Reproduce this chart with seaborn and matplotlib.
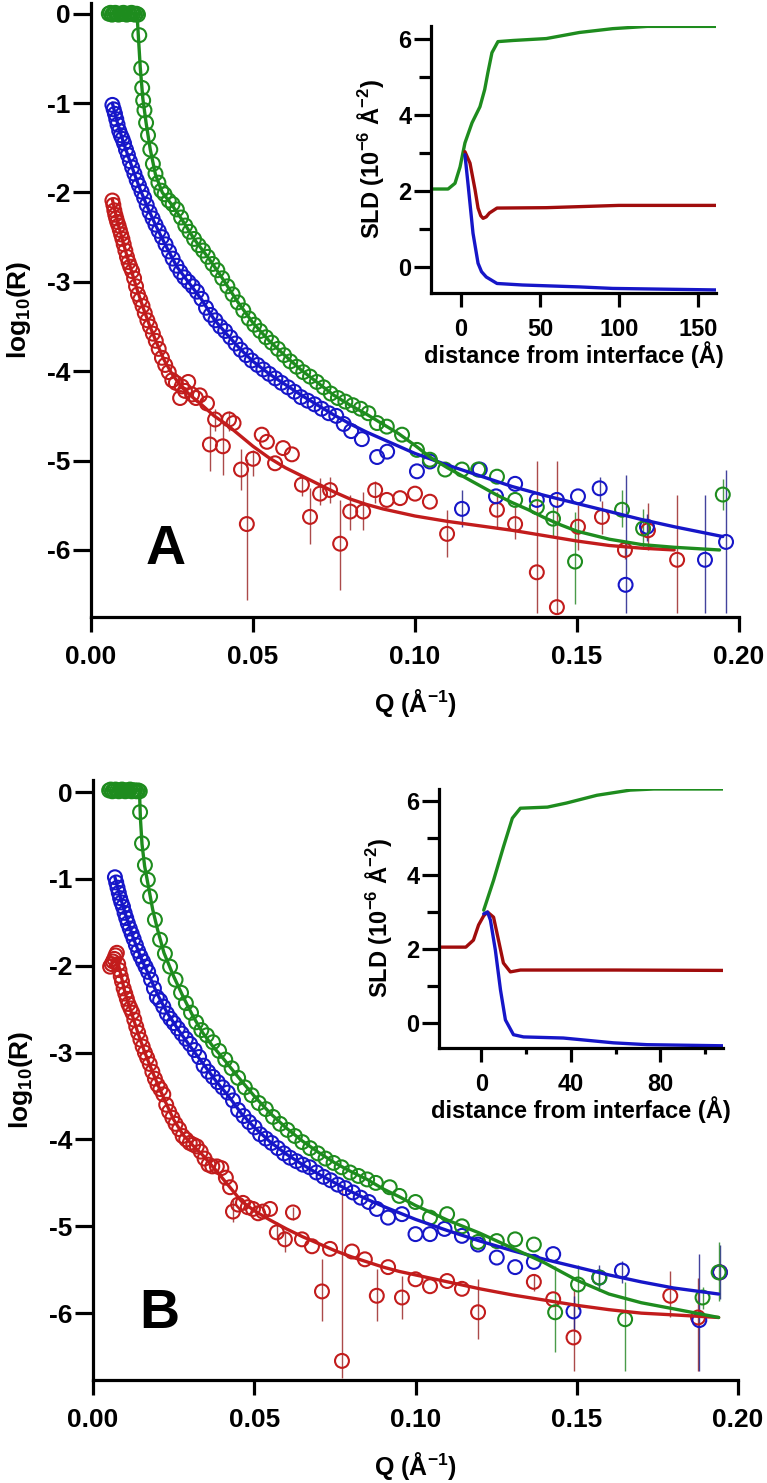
import matplotlib
matplotlib.use('Agg')
import matplotlib.pyplot as plt
from matplotlib.ticker import MultipleLocator
import seaborn as sns

# ---------------- panel A : reflectivity data ----------------
qa_green = [0.0055, 0.0060, 0.0065, 0.0070, 0.0075, 0.0080, 0.0085, 0.0090, 0.0095, 0.0100,
            0.0105, 0.0110, 0.0115, 0.0120, 0.0125, 0.0130, 0.0135, 0.0140, 0.0145,
            0.0149, 0.0155, 0.0158, 0.0161, 0.0165, 0.0170, 0.0176, 0.0183, 0.0191, 0.0199,
            0.0208, 0.0217, 0.0227, 0.0240, 0.0252, 0.0265, 0.0278, 0.0291, 0.0304, 0.0318,
            0.0332, 0.0346, 0.0360, 0.0375, 0.0390, 0.0405, 0.0421, 0.0437, 0.0453, 0.0470,
            0.0487, 0.0504, 0.0522, 0.0540, 0.0558, 0.0577, 0.0596, 0.0615, 0.0635, 0.0655,
            0.0676, 0.0697, 0.0718, 0.0740, 0.0762, 0.0785, 0.0808, 0.0832, 0.0856, 0.0883,
            0.0913, 0.0960, 0.1006, 0.1046, 0.1093, 0.1145, 0.1195, 0.1253, 0.1309, 0.1376,
            0.1426, 0.1494, 0.1639, 0.1704, 0.1950]
ra_green = [0.00, 0.01, -0.01, 0.00, 0.01, 0.00, -0.01, 0.00, 0.00, 0.01,
            0.00, -0.01, 0.00, 0.00, 0.01, 0.00, -0.01, 0.00, -0.01,
            -0.24, -0.61, -0.83, -0.97, -1.08, -1.22, -1.36, -1.52, -1.68, -1.79,
            -1.89, -1.98, -2.02, -2.09, -2.13, -2.19, -2.28, -2.37, -2.44, -2.52,
            -2.59, -2.65, -2.72, -2.80, -2.87, -2.96, -3.05, -3.14, -3.23, -3.32,
            -3.41, -3.48, -3.55, -3.62, -3.68, -3.75, -3.82, -3.89, -3.95, -4.01,
            -4.06, -4.12, -4.18, -4.25, -4.30, -4.34, -4.38, -4.42, -4.47, -4.58,
            -4.62, -4.71, -4.88, -4.99, -5.10, -5.10, -5.10, -5.18, -5.44, -5.52,
            -5.65, -6.13, -5.55, -5.76, -5.38]

qa_blue = [0.0066, 0.0070, 0.0074, 0.0078, 0.0082, 0.0087, 0.0092, 0.0097, 0.0102, 0.0108,
           0.0114, 0.0120, 0.0127, 0.0134, 0.0141, 0.0148, 0.0156, 0.0164, 0.0172, 0.0181,
           0.0190, 0.0199, 0.0209, 0.0219, 0.0230, 0.0241, 0.0252, 0.0264, 0.0276, 0.0288,
           0.0301, 0.0314, 0.0327, 0.0341, 0.0355, 0.0369, 0.0384, 0.0399, 0.0414, 0.0430,
           0.0446, 0.0462, 0.0479, 0.0496, 0.0514, 0.0532, 0.0550, 0.0569, 0.0588, 0.0608,
           0.0628, 0.0648, 0.0669, 0.0690, 0.0712, 0.0734, 0.0757, 0.0780, 0.0803, 0.0836,
           0.0883, 0.0914, 0.1006, 0.1046, 0.1145, 0.1200, 0.1250, 0.1309, 0.1376, 0.1438,
           0.1503, 0.1570, 0.1650, 0.1716, 0.1895, 0.1960]
ra_blue = [-1.02, -1.07, -1.12, -1.18, -1.24, -1.31, -1.36, -1.40, -1.45, -1.52,
           -1.58, -1.65, -1.72, -1.79, -1.86, -1.92, -1.99, -2.06, -2.14, -2.22,
           -2.29, -2.36, -2.43, -2.50, -2.58, -2.66, -2.74, -2.82, -2.89, -2.95,
           -3.00, -3.05, -3.11, -3.19, -3.29, -3.37, -3.43, -3.50, -3.55, -3.62,
           -3.69, -3.76, -3.82, -3.88, -3.93, -3.98, -4.03, -4.08, -4.13, -4.18,
           -4.23, -4.29, -4.33, -4.37, -4.42, -4.47, -4.50, -4.59, -4.67, -4.76,
           -4.96, -4.90, -5.12, -5.01, -5.54, -5.10, -5.40, -5.26, -5.44, -5.44,
           -5.40, -5.31, -6.39, -5.74, -6.11, -5.91]

qa_red = [0.0066, 0.0069, 0.0072, 0.0075, 0.0078, 0.0081, 0.0085, 0.0089, 0.0093, 0.0097,
          0.0101, 0.0106, 0.0111, 0.0116, 0.0121, 0.0127, 0.0133, 0.0139, 0.0145, 0.0152,
          0.0159, 0.0166, 0.0174, 0.0182, 0.0191, 0.0200, 0.0209, 0.0219, 0.0229, 0.0240,
          0.0251, 0.0262, 0.0275, 0.0280, 0.0290, 0.0300, 0.0312, 0.0324, 0.0336, 0.0358,
          0.0367, 0.0383, 0.0407, 0.0426, 0.0440, 0.0463, 0.0481, 0.0500, 0.0527, 0.0543,
          0.0568, 0.0593, 0.0620, 0.0651, 0.0676, 0.0707, 0.0738, 0.0769, 0.0800, 0.0840,
          0.0877, 0.0913, 0.0954, 0.1000, 0.1046, 0.1099, 0.1253, 0.1309, 0.1376, 0.1438,
          0.1503, 0.1577, 0.1648, 0.1719, 0.1809]
ra_red = [-2.09, -2.14, -2.20, -2.25, -2.29, -2.33, -2.37, -2.42, -2.47, -2.52,
          -2.58, -2.65, -2.72, -2.78, -2.83, -2.88, -2.96, -3.05, -3.14, -3.20,
          -3.27, -3.35, -3.43, -3.50, -3.58, -3.66, -3.75, -3.85, -3.93, -4.01,
          -4.10, -4.13, -4.30, -4.17, -4.22, -4.12, -4.26, -4.30, -4.27, -4.36,
          -4.82, -4.54, -4.84, -4.54, -4.58, -5.10, -5.71, -4.98, -4.71, -4.79,
          -5.03, -4.86, -4.93, -5.27, -5.63, -5.37, -5.33, -5.93, -5.57, -5.57,
          -5.33, -5.44, -5.42, -5.37, -5.46, -5.82, -5.55, -5.71, -6.25, -6.64,
          -5.74, -5.63, -6.00, -5.78, -6.11]

# error bars (Q, lower end, upper end) for the points where they are visible
ea_green_q = [0.1426, 0.1494, 0.1639, 0.1704, 0.1950]
ea_green_lo = [-5.85, -6.61, -5.74, -5.99, -5.55]
ea_green_hi = [-5.50, -5.57, -5.33, -5.54, -5.21]
ea_blue_q = [0.1145, 0.1570, 0.1650, 0.1716, 0.1895, 0.1960]
ea_blue_lo = [-5.74, -5.45, -6.70, -5.90, -6.70, -6.70]
ea_blue_hi = [-5.33, -5.18, -5.16, -5.60, -5.38, -5.10]
ea_red_q = [0.0367, 0.0383, 0.0407, 0.0426, 0.0463, 0.0481, 0.0500, 0.0651, 0.0676, 0.0707,
            0.0738, 0.0769, 0.0800, 0.0840, 0.0877, 0.1099, 0.1253, 0.1309, 0.1376, 0.1438,
            0.1503, 0.1577, 0.1648, 0.1719, 0.1809]
ea_red_lo = [-5.12, -4.67, -5.16, -4.67, -5.33, -6.56, -5.17, -5.40, -5.93, -5.50,
             -5.48, -6.45, -5.78, -5.78, -5.48, -6.08, -5.76, -5.88, -6.70, -6.70,
             -6.00, -5.82, -6.10, -6.00, -6.70]
ea_red_hi = [-4.58, -4.42, -4.58, -4.45, -4.87, -4.98, -4.88, -5.16, -5.31, -5.20,
             -5.18, -5.44, -5.38, -5.35, -5.23, -5.55, -5.35, -5.52, -5.01, -5.01,
             -5.50, -5.45, -5.90, -5.48, -5.38]

# model curves, panel A
fa_green_q = [0.0055, 0.0142, 0.0147, 0.0152, 0.0160, 0.0170, 0.0183, 0.0199, 0.0220, 0.0250,
              0.0280, 0.0320, 0.0360, 0.0400, 0.0450, 0.0500, 0.0550, 0.0600, 0.0650, 0.0700,
              0.0750, 0.0800, 0.0850, 0.0900, 0.0950, 0.1000, 0.1050, 0.1100, 0.1150, 0.1200,
              0.1250, 0.1300, 0.1350, 0.1400, 0.1450, 0.1500, 0.1600, 0.1700, 0.1800, 0.1940]
fa_green_r = [0.00, 0.00, -0.30, -0.60, -0.95, -1.22, -1.52, -1.80, -2.00, -2.14,
              -2.30, -2.53, -2.72, -2.93, -3.21, -3.46, -3.66, -3.83, -3.99, -4.13,
              -4.27, -4.38, -4.48, -4.59, -4.70, -4.83, -4.97, -5.08, -5.18, -5.28,
              -5.38, -5.47, -5.55, -5.64, -5.72, -5.79, -5.88, -5.94, -5.97, -6.00]
fa_blue_q = [0.0066, 0.0080, 0.0100, 0.0125, 0.0150, 0.0175, 0.0200, 0.0230, 0.0265, 0.0300,
             0.0340, 0.0380, 0.0420, 0.0460, 0.0500, 0.0550, 0.0600, 0.0650, 0.0700, 0.0750,
             0.0800, 0.0850, 0.0900, 0.1000, 0.1100, 0.1200, 0.1300, 0.1400, 0.1500, 0.1600,
             0.1700, 0.1800, 0.1950]
fa_blue_r = [-1.00, -1.20, -1.44, -1.70, -1.95, -2.17, -2.37, -2.59, -2.83, -3.00,
             -3.19, -3.42, -3.59, -3.75, -3.89, -4.03, -4.15, -4.27, -4.38, -4.49,
             -4.59, -4.68, -4.76, -4.92, -5.05, -5.17, -5.29, -5.39, -5.48, -5.57,
             -5.66, -5.74, -5.85]
fa_red_q = [0.0066, 0.0080, 0.0100, 0.0120, 0.0140, 0.0160, 0.0180, 0.0200, 0.0225, 0.0250,
            0.0280, 0.0310, 0.0340, 0.0380, 0.0420, 0.0460, 0.0500, 0.0550, 0.0600, 0.0650,
            0.0700, 0.0750, 0.0800, 0.0850, 0.0900, 0.1000, 0.1100, 0.1200, 0.1300, 0.1400,
            0.1500, 0.1600, 0.1700, 0.1800]
fa_red_r = [-2.08, -2.30, -2.57, -2.82, -3.06, -3.28, -3.48, -3.66, -3.87, -4.03,
            -4.18, -4.28, -4.37, -4.50, -4.60, -4.72, -4.84, -4.97, -5.08, -5.17,
            -5.26, -5.35, -5.43, -5.49, -5.54, -5.62, -5.68, -5.73, -5.78, -5.84,
            -5.90, -5.95, -5.98, -6.00]

# SLD profiles, panel A inset
za_green = [-19, -8.2, -3.8, -0.6, 2.5, 7, 12, 15, 17, 19.6, 23.4, 33, 54, 75, 96, 118, 162]
sa_green = [2.05, 2.05, 2.20, 2.63, 3.26, 3.79, 4.21, 4.66, 5.10, 5.63, 5.92, 5.95, 6.00, 6.16, 6.26, 6.32, 6.32]
za_red = [2.5, 5.7, 8.9, 10.8, 12.5, 14, 16, 18, 22.8, 54, 100, 162]
sa_red = [3.03, 2.73, 2.03, 1.55, 1.35, 1.28, 1.32, 1.42, 1.55, 1.56, 1.62, 1.62]
za_blue = [2.5, 4.6, 7.6, 10.8, 13, 16, 22.8, 39, 75, 96, 162]
sa_blue = [2.95, 2.12, 0.89, 0.10, -0.12, -0.26, -0.43, -0.47, -0.52, -0.56, -0.60]

# ---------------- panel B : reflectivity data ----------------
qb_green = [0.0050, 0.0055, 0.0060, 0.0065, 0.0070, 0.0075, 0.0080, 0.0085, 0.0090, 0.0095,
            0.0100, 0.0105, 0.0110, 0.0115, 0.0120, 0.0125, 0.0130, 0.0135, 0.0140, 0.0145,
            0.0146, 0.0152, 0.0161, 0.0170, 0.0177, 0.0192, 0.0208, 0.0223, 0.0239, 0.0256,
            0.0273, 0.0288, 0.0304, 0.0320, 0.0336, 0.0353, 0.0372, 0.0391, 0.0410, 0.0430,
            0.0450, 0.0471, 0.0492, 0.0514, 0.0536, 0.0558, 0.0580, 0.0603, 0.0626, 0.0649,
            0.0673, 0.0697, 0.0721, 0.0746, 0.0771, 0.0797, 0.0823, 0.0850, 0.0877, 0.0920,
            0.0950, 0.1000, 0.1045, 0.1098, 0.1144, 0.1194, 0.1252, 0.1309, 0.1367, 0.1433,
            0.1504, 0.1570, 0.1650, 0.1890, 0.1940]
rb_green = [0.02, 0.03, 0.01, 0.02, 0.03, 0.02, 0.01, 0.02, 0.03, 0.02,
            0.01, 0.02, 0.02, 0.03, 0.01, 0.02, 0.02, 0.01, 0.02, 0.01,
            -0.23, -0.59, -0.84, -1.01, -1.20, -1.47, -1.70, -1.86, -2.01, -2.16,
            -2.31, -2.43, -2.54, -2.65, -2.74, -2.80, -2.88, -2.98, -3.08, -3.18,
            -3.29, -3.40, -3.49, -3.58, -3.65, -3.74, -3.82, -3.89, -3.96, -4.03,
            -4.10, -4.16, -4.22, -4.27, -4.32, -4.38, -4.42, -4.46, -4.50, -4.55,
            -4.65, -4.72, -4.90, -4.86, -5.00, -5.18, -5.17, -5.15, -5.21, -5.99,
            -5.67, -5.59, -6.07, -5.82, -5.53]

qb_blue = [0.0068, 0.0072, 0.0076, 0.0080, 0.0084, 0.0088, 0.0093, 0.0098, 0.0103, 0.0108,
           0.0114, 0.0120, 0.0126, 0.0133, 0.0140, 0.0147, 0.0155, 0.0163, 0.0171, 0.0180,
           0.0189, 0.0198, 0.0208, 0.0218, 0.0229, 0.0240, 0.0251, 0.0263, 0.0275, 0.0288,
           0.0301, 0.0315, 0.0329, 0.0343, 0.0357, 0.0372, 0.0387, 0.0402, 0.0418, 0.0434,
           0.0450, 0.0467, 0.0484, 0.0501, 0.0518, 0.0536, 0.0554, 0.0573, 0.0592, 0.0611,
           0.0631, 0.0651, 0.0672, 0.0693, 0.0715, 0.0737, 0.0759, 0.0782, 0.0806, 0.0830,
           0.0855, 0.0880, 0.0915, 0.0958, 0.1000, 0.1045, 0.1090, 0.1144, 0.1194, 0.1252,
           0.1309, 0.1367, 0.1427, 0.1490, 0.1570, 0.1640, 0.1880, 0.1944]
rb_blue = [-0.98, -1.04, -1.10, -1.16, -1.22, -1.27, -1.32, -1.39, -1.45, -1.51,
           -1.57, -1.63, -1.69, -1.76, -1.83, -1.89, -1.95, -2.01, -2.07, -2.16,
           -2.26, -2.36, -2.40, -2.47, -2.55, -2.61, -2.66, -2.72, -2.78, -2.84,
           -2.90, -2.97, -3.05, -3.15, -3.22, -3.28, -3.34, -3.40, -3.46, -3.55,
           -3.66, -3.73, -3.80, -3.86, -3.94, -3.99, -4.04, -4.10, -4.16, -4.21,
           -4.25, -4.29, -4.32, -4.38, -4.43, -4.47, -4.52, -4.56, -4.61, -4.67,
           -4.72, -4.80, -4.90, -4.86, -5.09, -5.09, -5.03, -5.11, -5.21, -5.36,
           -5.47, -5.41, -5.32, -5.98, -5.59, -5.51, -6.08, -5.53]

qb_red = [0.0053, 0.0058, 0.0062, 0.0066, 0.0070, 0.0074, 0.0078, 0.0082, 0.0086, 0.0090,
          0.0095, 0.0100, 0.0105, 0.0110, 0.0116, 0.0122, 0.0128, 0.0134, 0.0140, 0.0147,
          0.0154, 0.0161, 0.0168, 0.0176, 0.0184, 0.0192, 0.0200, 0.0209, 0.0218, 0.0227,
          0.0236, 0.0246, 0.0256, 0.0267, 0.0278, 0.0289, 0.0300, 0.0311, 0.0322, 0.0334,
          0.0346, 0.0358, 0.0370, 0.0384, 0.0398, 0.0412, 0.0425, 0.0434, 0.0450, 0.0465,
          0.0480, 0.0496, 0.0512, 0.0527, 0.0549, 0.0570, 0.0595, 0.0620, 0.0648, 0.0679,
          0.0710, 0.0735, 0.0772, 0.0803, 0.0843, 0.0880, 0.0915, 0.0958, 0.1000, 0.1045,
          0.1098, 0.1144, 0.1194, 0.1367, 0.1427, 0.1490, 0.1790, 0.1876, 0.1944]
rb_red = [-2.01, -1.98, -1.95, -1.92, -1.88, -1.85, -1.98, -2.05, -2.12, -2.18,
          -2.26, -2.32, -2.38, -2.44, -2.49, -2.54, -2.62, -2.70, -2.77, -2.85,
          -2.93, -3.00, -3.06, -3.13, -3.22, -3.30, -3.37, -3.42, -3.48, -3.60,
          -3.68, -3.75, -3.82, -3.88, -3.96, -4.00, -4.04, -4.06, -4.08, -4.14,
          -4.22, -4.29, -4.31, -4.31, -4.33, -4.44, -4.55, -4.83, -4.75, -4.73,
          -4.78, -4.80, -4.85, -4.83, -4.80, -5.07, -5.15, -4.84, -5.15, -5.23,
          -5.75, -5.26, -6.55, -5.29, -5.38, -5.80, -5.47, -5.82, -5.61, -5.69,
          -5.63, -5.72, -5.99, -5.64, -5.84, -6.28, -5.80, -6.05, -5.53]

eb_green_q = [0.1433, 0.1504, 0.1570, 0.1650, 0.1890, 0.1940]
eb_green_lo = [-6.45, -5.95, -5.70, -6.67, -5.95, -5.86]
eb_green_hi = [-5.46, -5.45, -5.50, -5.64, -5.70, -5.18]
eb_blue_q = [0.1490, 0.1570, 0.1640, 0.1880, 0.1944]
eb_blue_lo = [-6.20, -5.75, -5.65, -6.67, -5.84]
eb_blue_hi = [-5.80, -5.45, -5.40, -5.32, -5.22]
eb_red_q = [0.0434, 0.0570, 0.0595, 0.0620, 0.0710, 0.0772, 0.0880, 0.0958, 0.1194, 0.1367,
            0.1490, 0.1790, 0.1876]
eb_red_lo = [-4.95, -5.15, -5.30, -4.93, -6.09, -6.75, -6.09, -6.07, -6.30, -5.75,
             -6.67, -6.05, -6.67]
eb_red_hi = [-4.70, -4.95, -5.05, -4.78, -5.38, -4.57, -5.49, -5.57, -5.61, -5.55,
             -5.72, -5.52, -5.60]

fb_green_q = [0.0050, 0.0144, 0.0147, 0.0152, 0.0160, 0.0170, 0.0185, 0.0200, 0.0220, 0.0250,
              0.0280, 0.0310, 0.0340, 0.0370, 0.0400, 0.0450, 0.0500, 0.0550, 0.0600, 0.0650,
              0.0700, 0.0750, 0.0800, 0.0850, 0.0900, 0.0950, 0.1000, 0.1100, 0.1200, 0.1300,
              0.1400, 0.1500, 0.1600, 0.1700, 0.1800, 0.1940]
fb_green_r = [0.02, 0.02, -0.30, -0.60, -0.85, -1.05, -1.35, -1.58, -1.85, -2.12,
              -2.36, -2.58, -2.77, -2.92, -3.05, -3.28, -3.50, -3.70, -3.87, -4.02,
              -4.15, -4.27, -4.37, -4.46, -4.57, -4.66, -4.76, -4.93, -5.08, -5.25,
              -5.42, -5.62, -5.78, -5.88, -5.95, -6.05]
fb_blue_q = [0.0068, 0.0080, 0.0100, 0.0125, 0.0150, 0.0175, 0.0200, 0.0230, 0.0265, 0.0300,
             0.0340, 0.0380, 0.0420, 0.0460, 0.0500, 0.0550, 0.0600, 0.0650, 0.0700, 0.0750,
             0.0800, 0.0850, 0.0900, 0.1000, 0.1100, 0.1200, 0.1300, 0.1400, 0.1500, 0.1600,
             0.1700, 0.1800, 0.1940]
fb_blue_r = [-0.98, -1.15, -1.40, -1.68, -1.92, -2.12, -2.33, -2.54, -2.74, -2.92,
             -3.12, -3.32, -3.50, -3.70, -3.86, -4.03, -4.17, -4.29, -4.40, -4.50,
             -4.60, -4.69, -4.77, -4.92, -5.05, -5.17, -5.28, -5.38, -5.47, -5.56,
             -5.64, -5.71, -5.78]
fb_red_q = [0.0053, 0.0065, 0.0075, 0.0085, 0.0100, 0.0120, 0.0140, 0.0160, 0.0180, 0.0200,
            0.0225, 0.0250, 0.0280, 0.0310, 0.0340, 0.0380, 0.0420, 0.0460, 0.0500, 0.0550,
            0.0600, 0.0650, 0.0700, 0.0750, 0.0800, 0.0850, 0.0900, 0.0950, 0.1000, 0.1100,
            0.1200, 0.1300, 0.1400, 0.1500, 0.1600, 0.1700, 0.1800, 0.1940]
fb_red_r = [-2.00, -1.95, -1.92, -2.08, -2.32, -2.55, -2.78, -2.99, -3.18, -3.36,
            -3.57, -3.77, -3.95, -4.07, -4.18, -4.35, -4.53, -4.71, -4.82, -4.93,
            -5.03, -5.12, -5.20, -5.28, -5.35, -5.41, -5.47, -5.52, -5.56, -5.64,
            -5.72, -5.79, -5.85, -5.91, -5.96, -6.00, -6.02, -6.05]

zb_green = [1, 5.4, 9.8, 13.8, 17.4, 29.5, 38, 51.6, 66.5, 77, 108]
sb_green = [3.05, 3.86, 4.76, 5.54, 5.81, 5.84, 5.95, 6.16, 6.30, 6.33, 6.33]
zb_red = [-19, -7, -3.6, -1.3, 1, 2.7, 5.4, 7.6, 9.8, 12.9, 17.4, 60, 108]
sb_red = [2.05, 2.05, 2.24, 2.65, 2.90, 3.00, 2.86, 2.24, 1.62, 1.38, 1.43, 1.43, 1.42]
zb_blue = [1, 2.7, 4, 6.2, 8.5, 10.7, 14.3, 18.8, 36.6, 59, 74, 108]
sb_blue = [2.95, 3.00, 2.78, 1.97, 0.89, 0.08, -0.32, -0.38, -0.41, -0.54, -0.59, -0.62]

GREEN = '#1e8c1e'
BLUE = '#1616c8'
RED = '#c21c1c'
RED_DARK = '#a00c0c'

sns.set_style('ticks')
plt.rcParams['font.family'] = ['Liberation Sans', 'DejaVu Sans']
plt.rcParams['font.weight'] = 'bold'
plt.rcParams['axes.labelweight'] = 'bold'
for key in ['text.color', 'axes.labelcolor', 'xtick.color', 'ytick.color', 'axes.edgecolor']:
    plt.rcParams[key] = 'black'
plt.rcParams['mathtext.fontset'] = 'custom'
plt.rcParams['mathtext.rm'] = 'Liberation Sans:bold'
plt.rcParams['mathtext.bf'] = 'Liberation Sans:bold'
plt.rcParams['mathtext.it'] = 'Liberation Sans:bold:italic'
plt.rcParams['mathtext.default'] = 'rm'

fig = plt.figure(figsize=(7.67, 14.83), dpi=100)


def style_axes(ax, lab, tick_len, pad_y, pad_x):
    sns.despine(ax=ax)
    for s in ['left', 'bottom']:
        ax.spines[s].set_linewidth(2.3)
    ax.tick_params(axis='both', which='major', direction='out', width=2.3, labelsize=lab)
    ax.tick_params(axis='y', which='major', length=tick_len[0], pad=pad_y)
    ax.tick_params(axis='x', which='major', length=tick_len[1], pad=pad_x)


def reflect_panel(rect, ylim, data, bars, fits, letter, letter_xy):
    ax = fig.add_axes(rect)
    for q, r, c in data:
        sns.scatterplot(x=q, y=r, ax=ax, marker='o', s=100, facecolor='none',
                        edgecolor=c, linewidth=1.5, zorder=3, legend=False)
    for q, lo, hi, c in bars:
        ax.vlines(q, lo, hi, color=c, lw=1.0, alpha=0.85, zorder=2)
    for q, r, c in fits:
        sns.lineplot(x=q, y=r, ax=ax, color=c, lw=2.4, estimator=None, sort=False,
                     legend=False, zorder=4)
    ax.set_xlim(0, 0.2)
    ax.set_ylim(*ylim)
    ax.xaxis.set_major_locator(MultipleLocator(0.05))
    ax.yaxis.set_major_locator(MultipleLocator(1))
    ax.xaxis.set_major_formatter(plt.FormatStrFormatter('%.2f'))
    ax.yaxis.set_major_formatter(plt.FormatStrFormatter('%d'))
    style_axes(ax, 19, (13, 11), 2, 9)
    ax.set_xlabel('Q (Å$^{-1}$)', fontsize=18, labelpad=13)
    ax.set_ylabel('log$_{10}$(R)', fontsize=19, labelpad=10)
    ax.text(letter_xy[0], letter_xy[1], letter, fontsize=40, fontweight='bold',
            ha='center', va='center')
    return ax


def sld_inset(rect, xlim, profiles, xstep, xminor):
    ax = fig.add_axes(rect)
    for z, s, c in profiles:
        sns.lineplot(x=z, y=s, ax=ax, color=c, lw=2.4, estimator=None, sort=False, legend=False)
    ax.set_xlim(*xlim)
    ax.set_ylim(-0.68, 6.33)
    ax.xaxis.set_major_locator(MultipleLocator(xstep))
    if xminor:
        ax.xaxis.set_minor_locator(MultipleLocator(xminor))
    ax.yaxis.set_major_locator(MultipleLocator(2))
    ax.yaxis.set_minor_locator(MultipleLocator(1))
    style_axes(ax, 17, (12, 10), 2, 8)
    ax.tick_params(axis='both', which='minor', direction='out', width=2.3)
    ax.tick_params(axis='y', which='minor', length=9)
    ax.tick_params(axis='x', which='minor', length=4)
    ax.set_xlabel('distance from interface (Å)', fontsize=17, labelpad=0)
    ax.set_ylabel('SLD (10$^{-6}$ Å$^{-2}$)', fontsize=17, labelpad=9)
    return ax


reflect_panel([91 / 767, 1 - 617 / 1483, 648 / 767, 614 / 1483], (-6.75, 0.12),
              [(qa_red, ra_red, RED), (qa_blue, ra_blue, BLUE), (qa_green, ra_green, GREEN)],
              [(ea_red_q, ea_red_lo, ea_red_hi, '#9c2a2a'),
               (ea_blue_q, ea_blue_lo, ea_blue_hi, '#22228c'),
               (ea_green_q, ea_green_lo, ea_green_hi, '#2a8a2a')],
              [(fa_red_q, fa_red_r, RED), (fa_blue_q, fa_blue_r, BLUE), (fa_green_q, fa_green_r, GREEN)],
              'A', (0.023, -6.0))

reflect_panel([93 / 767, 1 - 1380 / 1483, 645 / 767, 600 / 1483], (-6.77, 0.14),
              [(qb_red, rb_red, RED), (qb_blue, rb_blue, BLUE), (qb_green, rb_green, GREEN)],
              [(eb_red_q, eb_red_lo, eb_red_hi, '#9c2a2a'),
               (eb_blue_q, eb_blue_lo, eb_blue_hi, '#22228c'),
               (eb_green_q, eb_green_lo, eb_green_hi, '#2a8a2a')],
              [(fb_red_q, fb_red_r, RED), (fb_blue_q, fb_blue_r, BLUE), (fb_green_q, fb_green_r, GREEN)],
              'B', (0.0205, -6.01))

sld_inset([431 / 767, 1 - 293 / 1483, 285 / 767, 267 / 1483], (-19, 161.5),
          [(za_green, sa_green, GREEN), (za_red, sa_red, RED_DARK), (za_blue, sa_blue, BLUE)],
          50, None)

sld_inset([439 / 767, 1 - 1048 / 1483, 284 / 767, 259 / 1483], (-19, 108),
          [(zb_green, sb_green, GREEN), (zb_red, sb_red, RED_DARK), (zb_blue, sb_blue, BLUE)],
          40, 20)

fig.savefig('out.png', dpi=100)
